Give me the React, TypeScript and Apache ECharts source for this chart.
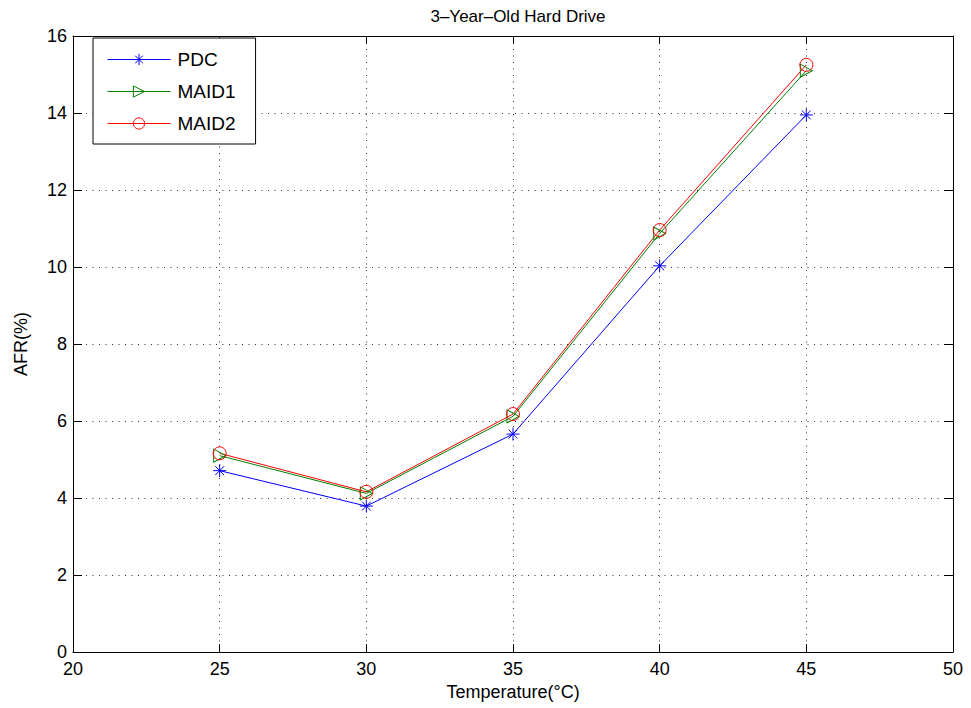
import React, { useEffect, useRef } from "react";
import * as echarts from "echarts";

const temperatures = [25, 30, 35, 40, 45];
const pdc = [4.71, 3.79, 5.66, 10.03, 13.95];
const maid1 = [5.1, 4.12, 6.12, 10.87, 15.1];
const maid2 = [5.16, 4.16, 6.18, 10.96, 15.25];
const seriesNames = ["PDC", "MAID1", "MAID2"];
const seriesColors = ["#0000ff", "#008000", "#ff0000"];
const titleText = "3\u2013Year\u2013Old Hard Drive";
const xName = "Temperature(\u00B0C)";
const yName = "AFR(%)";

const FONT = "'Liberation Sans', Arial, Helvetica, sans-serif";

const STAR = "path://M0,5L10,5M5,0L5,10M1.6,1.6L8.4,8.4M1.6,8.4L8.4,1.6";
const TRI = "path://M0,0L10,5L0,10Z";

function pairs(vals: number[]) {
  return temperatures.map((t, i) => [t, vals[i]]);
}

export default function App() {
  const ref = useRef<HTMLDivElement>(null);
  useEffect(() => {
    if (!ref.current) return;
    const chart = echarts.init(ref.current, undefined, { renderer: "svg" });
    const gridLine = { show: true, lineStyle: { color: "rgba(0,0,0,0.8)", width: 1, type: [1, 5.5] as any } };
    const mkSeries = (name: string, vals: number[], color: string, symbol: string, size: any) => ({
      name,
      type: "line",
      data: pairs(vals),
      symbol,
      symbolSize: size,
      showAllSymbol: true,
      lineStyle: { color, width: 1 },
      itemStyle: { color: "rgba(0,0,0,0)", borderColor: color, borderWidth: 1 },
      emphasis: { disabled: true },
      z: 3,
    });
    chart.setOption({
      animation: false,
      backgroundColor: "#ffffff",
      textStyle: { fontFamily: FONT },
      title: {
        text: titleText,
        left: 513,
        top: 3,
        textAlign: "center",
        textStyle: { fontFamily: FONT, fontSize: 17, fontWeight: "normal", color: "#000" },
      },
      legend: {
        data: seriesNames.map((n, i) => ({
          name: n,
          lineStyle: { color: seriesColors[i], width: 1 },
          itemStyle: { color: "rgba(0,0,0,0)", borderColor: seriesColors[i], borderWidth: 1 },
        })),
        orient: "vertical",
        left: 93,
        top: 38,
        itemWidth: 63,
        itemHeight: 14,
        itemGap: 13,
        padding: [12, 20, 11, 14],
        backgroundColor: "#fff",
        borderColor: "#000",
        borderWidth: 1,
        selectedMode: false,
        textStyle: { fontFamily: FONT, fontSize: 19, color: "#000", padding: [0, 0, 0, 2] },
      },
      grid: { left: 73, right: 18, top: 36, bottom: 56, containLabel: false },
      xAxis: [
        {
          type: "value",
          min: 20,
          max: 50,
          interval: 5,
          name: xName,
          nameLocation: "middle",
          nameGap: 31,
          nameTextStyle: { fontFamily: FONT, fontSize: 18, color: "#000" },
          axisLine: { show: true, onZero: false, lineStyle: { color: "#000", width: 1 } },
          axisTick: { show: true, inside: true, length: 8, lineStyle: { color: "#000" } },
          axisLabel: { fontFamily: FONT, fontSize: 18, color: "#000", margin: 8 },
          splitLine: gridLine,
        },
        {
          type: "value",
          position: "top",
          min: 20,
          max: 50,
          interval: 5,
          axisLine: { show: true, onZero: false, lineStyle: { color: "#000", width: 1 } },
          axisTick: { show: true, inside: true, length: 8, lineStyle: { color: "#000" } },
          axisLabel: { show: false },
          splitLine: { show: false },
        },
      ],
      yAxis: [
        {
          type: "value",
          min: 0,
          max: 16,
          interval: 2,
          name: yName,
          nameLocation: "middle",
          nameGap: 43,
          nameTextStyle: { fontFamily: FONT, fontSize: 18, color: "#000" },
          axisLine: { show: true, onZero: false, lineStyle: { color: "#000", width: 1 } },
          axisTick: { show: true, inside: true, length: 9, lineStyle: { color: "#000" } },
          axisLabel: { fontFamily: FONT, fontSize: 18, color: "#000", margin: 6 },
          splitLine: gridLine,
        },
        {
          type: "value",
          position: "right",
          min: 0,
          max: 16,
          interval: 2,
          axisLine: { show: true, onZero: false, lineStyle: { color: "#000", width: 1 } },
          axisTick: { show: true, inside: true, length: 9, lineStyle: { color: "#000" } },
          axisLabel: { show: false },
          splitLine: { show: false },
        },
      ],
      series: [
        mkSeries(seriesNames[0], pdc, seriesColors[0], STAR, 13),
        mkSeries(seriesNames[1], maid1, seriesColors[1], TRI, [12, 13]),
        mkSeries(seriesNames[2], maid2, seriesColors[2], "circle", 13),
      ],
    });
    return () => chart.dispose();
  }, []);
  return <div ref={ref} style={{ position: "fixed", left: 0, top: 0, width: 971, height: 708 }} />;
}
